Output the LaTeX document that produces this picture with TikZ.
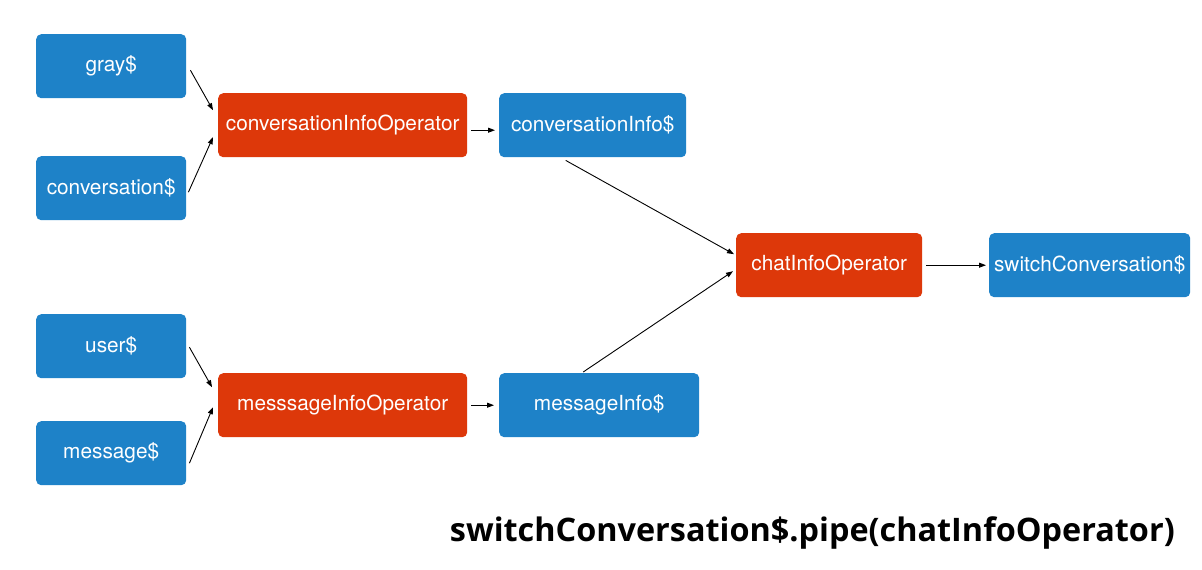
\documentclass[tikz,border=0pt]{standalone}
\usepackage{fontspec}
\setmainfont{TeX Gyre Heros}
\newfontfamily\captionfont{Open Sans}
\usetikzlibrary{arrows.meta}
\definecolor{boxblue}{RGB}{30,130,200}
\definecolor{boxred}{RGB}{221,56,10}
\tikzset{
  base/.style={rounded corners=5pt, text=white, font=\fontsize{20.8}{22}\selectfont, inner sep=0pt, anchor=north west, minimum height=64pt},
  bluebox/.style={base, fill=boxblue},
  redbox/.style={base, fill=boxred},
  conn/.style={-{Triangle[length=7pt,width=5pt]}, line width=0.9pt, black},
}
\begin{document}
\begin{tikzpicture}[x=1pt,y=-1pt]
\useasboundingbox[fill=white] (0,0) rectangle (1202,570);
\node[bluebox, minimum width=150pt] (gray) at (36,34) {gray\$};
\node[bluebox, minimum width=150pt] (conv) at (36,156) {conversation\$};
\node[redbox, minimum width=249pt] (convop) at (218,93) {conversationInfoOperator};
\node[bluebox, minimum width=187pt] (convinfo) at (499,93) {conversationInfo\$};
\node[redbox, minimum width=186pt] (chatop) at (736,233) {chatInfoOperator};
\node[bluebox, minimum width=201pt] (switch) at (989,233) {switchConversation\$};
\node[bluebox, minimum width=150pt] (user) at (36,314) {user\$};
\node[bluebox, minimum width=150pt] (msg) at (36,421) {message\$};
\node[redbox, minimum width=249pt] (msgop) at (218,373) {messsageInfoOperator};
\node[bluebox, minimum width=200pt] (msginfo) at (499,373) {messageInfo\$};
% connectors
\draw[conn] ([shift={(4,4)}]gray.east) -- ([shift={(-5,-15)}]convop.west);
\draw[conn] ([shift={(2,4)}]conv.east) -- ([shift={(-5,12)}]convop.west);
\draw[conn] ([shift={(4,5)}]convop.east) -- ([shift={(-4,5)}]convinfo.west);
\draw[conn] ([shift={(-27,3)}]convinfo.south) -- ([shift={(-2,-11)}]chatop.west);
\draw[conn] ([shift={(-16,-1)}]msginfo.north) -- ([shift={(-3,6)}]chatop.west);
\draw[conn] ([shift={(4,0)}]chatop.east) -- ([shift={(-3,0)}]switch.west);
\draw[conn] ([shift={(3,1)}]user.east) -- ([shift={(-6,-18)}]msgop.west);
\draw[conn] ([shift={(3,10)}]msg.east) -- ([shift={(-5,2)}]msgop.west);
\draw[conn] ([shift={(4,0)}]msgop.east) -- ([shift={(-5,0)}]msginfo.west);
% caption
\node[anchor=base east, font=\captionfont\bfseries\fontsize{32.4}{36}\selectfont, inner sep=0pt] (cap) at (1175,541) {switchConversation\$.pipe(chatInfoOperator)};
\end{tikzpicture}
\end{document}
